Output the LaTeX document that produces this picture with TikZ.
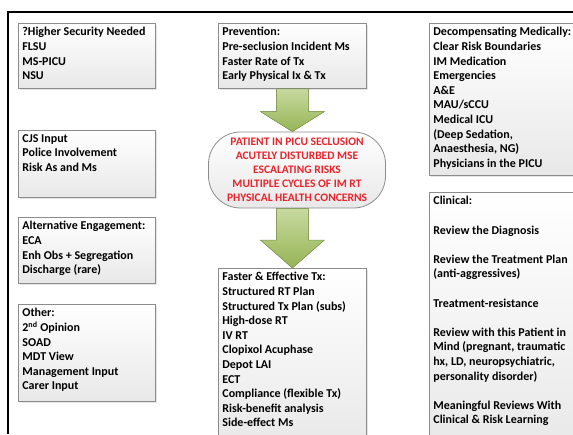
\documentclass[tikz,border=0pt]{standalone}
\usepackage{fontspec}
\setmainfont{Carlito}
\usetikzlibrary{calc,shadows}
\definecolor{boxline}{RGB}{140,140,140}
\definecolor{arrowtop}{RGB}{200,218,160}
\definecolor{arrowbot}{RGB}{150,180,85}
\definecolor{arrowline}{RGB}{125,155,75}
\definecolor{alertred}{RGB}{232,36,44}
% box text: height, width, lines
\newcommand{\boxtxt}[3]{\parbox[t][#1pt][t]{#2pt}{#3}}
% block arrow: start, tip, head length
\newcommand{\greenarrow}[3]{%
\filldraw[blockarrow] ($(#1)+(-16,0)$) -- ($(#2)+(-16,-#3)$) -- ($(#2)+(-32,-#3)$) -- (#2)
 -- ($(#2)+(32,-#3)$) -- ($(#2)+(16,-#3)$) -- ($(#1)+(16,0)$) -- cycle;}

\begin{document}
\begin{tikzpicture}[x=1pt,y=-1pt,
 every node/.style={font=\fontsize{12}{14.6}\selectfont\bfseries},
 infobox/.style={draw=boxline, line width=0.8pt, top color=white, bottom color=gray!18,
  drop shadow={opacity=0.2, shadow xshift=1.5pt, shadow yshift=-1.5pt},
  anchor=north west, inner sep=4pt},
 alertbox/.style={draw=boxline, line width=0.8pt, top color=white, bottom color=gray!18,
  rounded corners=32pt, minimum width=177pt, minimum height=76pt, align=center,
  text=alertred, inner sep=2pt, font=\fontsize{11.5}{14}\selectfont\bfseries},
 blockarrow/.style={draw=arrowline, line width=0.5pt, top color=arrowtop, bottom color=arrowbot}]
\useasboundingbox (0,0) rectangle (573,434);
\clip (0,0) rectangle (573,434);
\fill[white] (0,0) rectangle (573,434);

% left column
\node[infobox] (higher) at (18,23) {\boxtxt{57}{129}{?Higher Security Needed\\FLSU\\MS-PICU\\NSU}};
\node[infobox] (cjs) at (18,130) {\boxtxt{59}{129}{CJS Input\\Police Involvement\\Risk As and Ms}};
\node[infobox] (alternative) at (18,217) {\boxtxt{58}{129}{Alternative Engagement:\\ECA\\Enh Obs + Segregation\\Discharge (rare)}};
\node[infobox] (other) at (18,304) {\boxtxt{89}{129}{Other:\\2\textsuperscript{nd} Opinion\\SOAD\\MDT View\\Management Input\\Carer Input}};

% centre column
\node[infobox] (prevention) at (218,23) {\boxtxt{57}{140}{Prevention:\\Pre-seclusion Incident Ms\\Faster Rate of Tx\\Early Physical Ix \& Tx}};
\node[alertbox] (seclusion) at (297,170) {PATIENT IN PICU SECLUSION\\ACUTELY DISTURBED MSE\\ESCALATING RISKS\\MULTIPLE CYCLES OF IM RT\\PHYSICAL HEALTH CONCERNS};
\node[infobox] (faster) at (218,268) {\boxtxt{172}{140}{Faster \& Effective Tx:\\Structured RT Plan\\Structured Tx Plan (subs)\\High-dose RT\\IV RT\\Clopixol Acuphase\\Depot LAI\\ECT\\Compliance (flexible Tx)\\Risk-benefit analysis\\Side-effect Ms}};

\greenarrow{prevention.south}{prevention.south |- seclusion.north}{20}
\greenarrow{prevention.south |- seclusion.south}{prevention.south |- faster.north}{28}

% right column
\node[infobox] (decomp) at (429,23) {\boxtxt{144}{152}{Decompensating Medically:\\Clear Risk Boundaries\\IM Medication\\Emergencies\\A\&E\\MAU/sCCU\\Medical ICU\\(Deep Sedation,\\Anaesthesia, NG)\\Physicians in the PICU}};
\node[infobox] (clinical) at (429,192) {\boxtxt{252}{152}{Clinical:\\[14.6pt]Review the Diagnosis\\[14.6pt]Review the Treatment Plan\\(anti-aggressives)\\[14.6pt]Treatment-resistance\\[14.6pt]Review with this Patient in\\Mind (pregnant, traumatic\\hx, LD, neuropsychiatric,\\personality disorder)\\[14.6pt]Meaningful Reviews With\\Clinical \& Risk Learning}};

% frame
\draw[line width=2.5pt] (8,434) -- (8,12) -- (573,12);
\end{tikzpicture}
\end{document}
